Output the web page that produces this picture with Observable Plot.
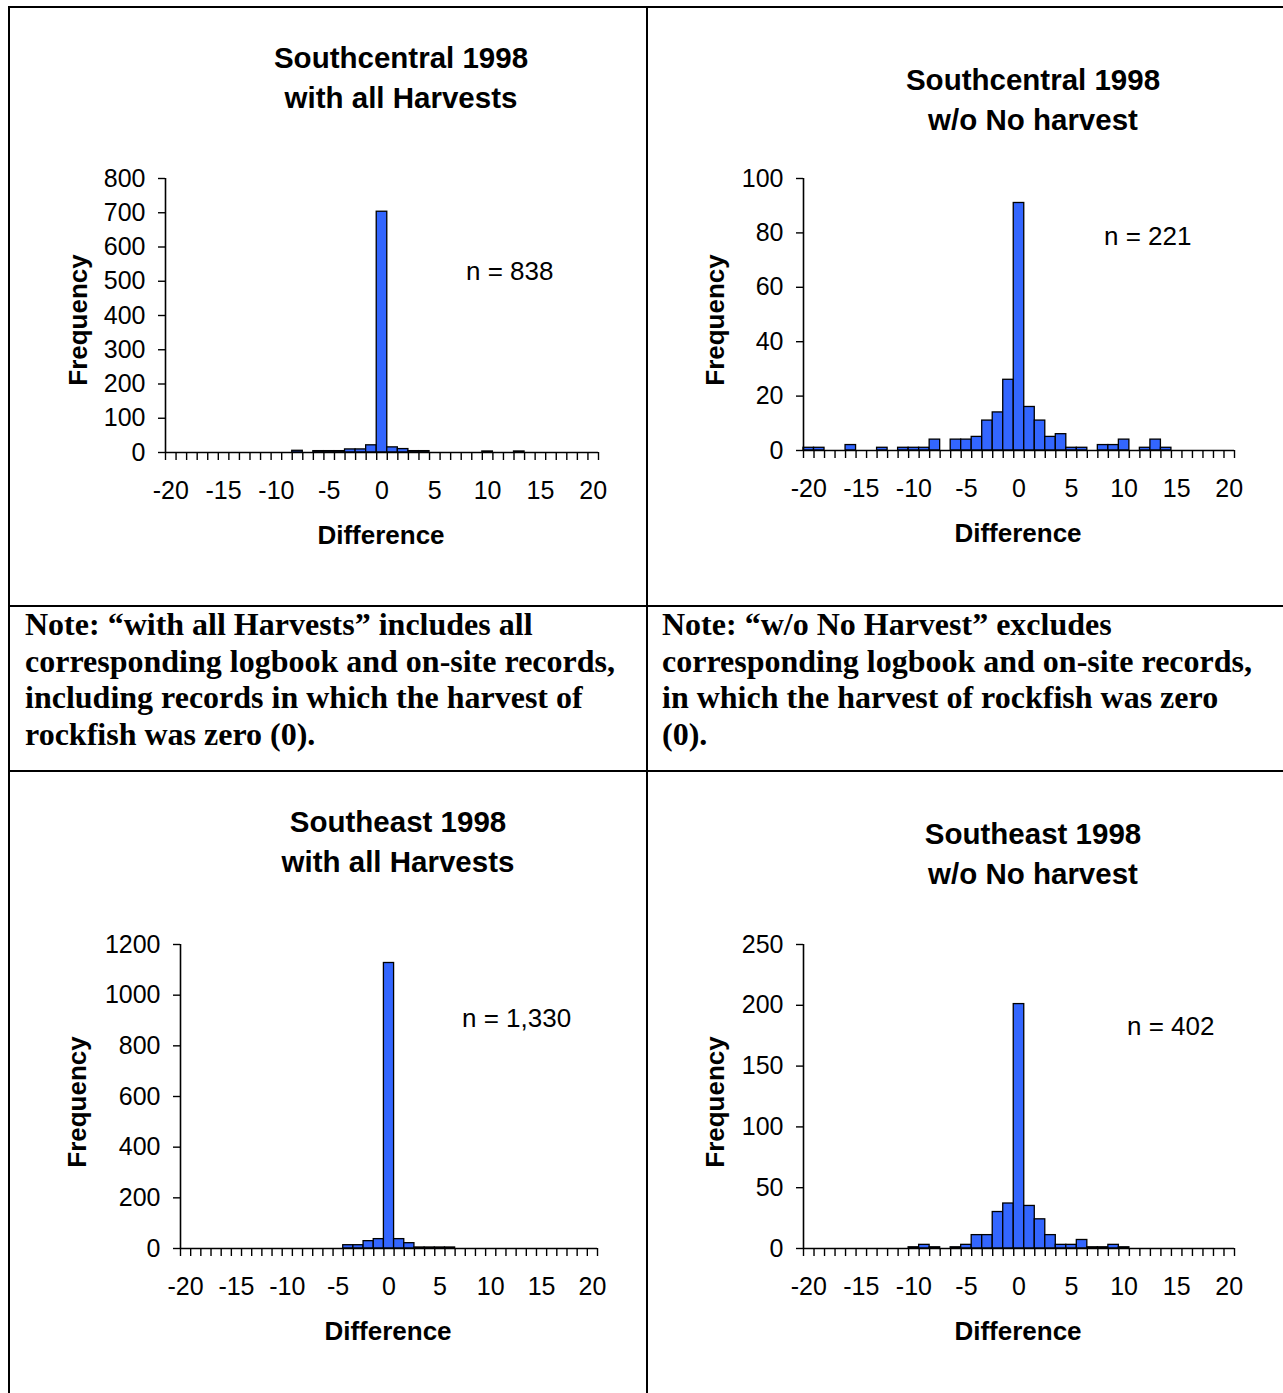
<!DOCTYPE html>
<html>
<head>
<meta charset="utf-8">
<script src="https://cdn.jsdelivr.net/npm/d3@7"></script>
<script src="https://cdn.jsdelivr.net/npm/@observablehq/plot@0.6"></script>
<style>
  html, body { margin: 0; padding: 0; background: #fff; }
  #page { position: relative; width: 1283px; height: 1393px; overflow: hidden; background: #fff; }
  .line { position: absolute; background: #000; }
  .title { position: absolute; transform: translate(-50%, -50%); font: bold 29.5px "Liberation Sans", Arial, sans-serif; line-height: 40px; text-align: center; white-space: nowrap; color: #000; }
  .axlab { position: absolute; transform: translate(-50%, -50%); font: bold 26px "Liberation Sans", Arial, sans-serif; line-height: 1; white-space: nowrap; color: #000; }
  .ylab { position: absolute; transform: translate(-50%, -50%) rotate(-90deg); font: bold 26px "Liberation Sans", Arial, sans-serif; line-height: 1; white-space: nowrap; color: #000; }
  .nlab { position: absolute; transform: translate(0, -50%); font: 26px "Liberation Sans", Arial, sans-serif; line-height: 1; white-space: nowrap; color: #000; }
  .note { position: absolute; font: bold 32px "Liberation Serif", "Times New Roman", serif; line-height: 36.6px; white-space: nowrap; color: #000; }
  .plotbox { position: absolute; }
</style>
</head>
<body>
<div id="page"></div>
<script>
// ---------- data ----------
const categories = [-20,-19,-18,-17,-16,-15,-14,-13,-12,-11,-10,-9,-8,-7,-6,-5,-4,-3,-2,-1,0,1,2,3,4,5,6,7,8,9,10,11,12,13,14,15,16,17,18,19,20];
const tickLabels = [-20,-15,-10,-5,0,5,10,15,20];

// Southcentral 1998, with all harvests
const scAll = [0,0,0,0,0,0,0,0,0,0,0,0,5,0,4,4,4,9,9,21,703,15,10,4,4,0,0,0,0,0,3,0,0,3,0,0,0,0,0,0,0];
// Southcentral 1998, w/o no harvest
const scNoZero = [1,1,0,0,2,0,0,1,0,1,1,1,4,0,4,4,5,11,14,26,91,16,11,5,6,1,1,0,2,2,4,0,1,4,1,0,0,0,0,0,0];
// Southeast 1998, with all harvests
const seAll = [0,0,0,0,0,0,0,0,0,0,0,0,0,0,0,0,13,13,29,37,1127,37,21,4,4,4,4,0,0,0,0,0,0,0,0,0,0,0,0,0,0];
// Southeast 1998, w/o no harvest
const seNoZero = [0,0,0,0,0,0,0,0,0,0,1,3,1,0,1,3,11,11,30,37,201,35,24,11,3,3,7,1,1,3,1,0,0,0,0,0,0,0,0,0,0];

const yTicksSCAll = [0,100,200,300,400,500,600,700,800];
const yTicksSCNoZero = [0,20,40,60,80,100];
const yTicksSEAll = [0,200,400,600,800,1000,1200];
const yTicksSENoZero = [0,50,100,150,200,250];

const titles = [
  ["Southcentral 1998", "with all Harvests"],
  ["Southcentral 1998", "w/o No harvest"],
  ["Southeast 1998", "with all Harvests"],
  ["Southeast 1998", "w/o No harvest"]
];
const nLabels = ["n = 838", "n = 221", "n = 1,330", "n = 402"];
const xTitle = "Difference";
const yTitle = "Frequency";
const notes = [
  ["Note: \u201cwith all Harvests\u201d includes all", "corresponding logbook and on-site records,", "including records in which the harvest of", "rockfish was zero (0)."],
  ["Note: \u201cw/o No Harvest\u201d excludes", "corresponding logbook and on-site records,", "in which the harvest of rockfish was zero", "(0)."]
];

// ---------- layout ----------
const page = document.getElementById("page");
function el(cls, css, html) {
  const d = document.createElement("div");
  d.className = cls;
  Object.assign(d.style, css);
  if (html !== undefined) d.innerHTML = html;
  page.appendChild(d);
  return d;
}
// table lines
el("line", {left: "8px", top: "6px", width: "1275px", height: "2px"});
el("line", {left: "8px", top: "6px", width: "2px", height: "1387px"});
el("line", {left: "646px", top: "6px", width: "2px", height: "1387px"});
el("line", {left: "8px", top: "605px", width: "1275px", height: "2px"});
el("line", {left: "8px", top: "770px", width: "1275px", height: "2px"});

// notes
el("note", {left: "25px", top: "606px"}, notes[0].join("<br>"));
el("note", {left: "662px", top: "606px"}, notes[1].join("<br>"));

const boundaries = categories.map(c => c - 0.5).concat([20.5]);

const panels = [
  {values: scAll, ticks: yTicksSCAll, L: 165, R: 598, T: 178, B: 452,
   title: [401, 78], n: [466, 271], ylab: [78, 320], xlab: [381, 535]},
  {values: scNoZero, ticks: yTicksSCNoZero, L: 803, R: 1234, T: 178, B: 450,
   title: [1033, 100], n: [1104, 236], ylab: [715, 320], xlab: [1018, 533]},
  {values: seAll, ticks: yTicksSEAll, L: 180, R: 597, T: 944, B: 1248,
   title: [398, 842], n: [462, 1018], ylab: [77, 1102], xlab: [388, 1331]},
  {values: seNoZero, ticks: yTicksSENoZero, L: 803, R: 1234, T: 944, B: 1248,
   title: [1033, 854], n: [1127, 1026], ylab: [715, 1102], xlab: [1018, 1331]}
];

panels.forEach((p, i) => {
  const mL = 110, mR = 20, mT = 14, mB = 60;
  const data = categories.map((c, j) => ({c, v: p.values[j]})).filter(d => d.v > 0);
  const yMax = p.ticks[p.ticks.length - 1];
  const svg = Plot.plot({
    width: mL + (p.R - p.L) + mR,
    height: mT + (p.B - p.T) + mB,
    marginLeft: mL, marginRight: mR, marginTop: mT, marginBottom: mB,
    x: {domain: [-20.5, 20.5], label: null},
    y: {domain: [0, yMax], label: null},
    style: {fontFamily: "'Liberation Sans', Arial, sans-serif", fontSize: "25px", color: "#000", background: "transparent", overflow: "visible"},
    marks: [
      Plot.rect(data, {x1: d => d.c - 0.5, x2: d => d.c + 0.5, y1: () => 0, y2: "v",
        fill: "#3366ff", stroke: "#000", strokeWidth: 1.3}),
      Plot.axisX(boundaries, {tickSize: 8, tickFormat: () => "", strokeWidth: 1.4, label: null}),
      Plot.axisX(tickLabels, {tickSize: 0, tickPadding: 29, tickFormat: d => String(d), fontSize: 25, label: null}),
      Plot.axisY(p.ticks, {tickSize: 7, tickPadding: 13, tickFormat: d => String(d), fontSize: 25, strokeWidth: 1.4, label: null}),
      Plot.ruleY([0], {strokeWidth: 1.6}),
      Plot.ruleX([-20.5], {strokeWidth: 1.6})
    ]
  });
  const box = el("plotbox", {left: (p.L - mL) + "px", top: (p.T - mT) + "px"});
  box.appendChild(svg);

  el("title", {left: p.title[0] + "px", top: p.title[1] + "px"}, titles[i].join("<br>"));
  el("nlab", {left: p.n[0] + "px", top: p.n[1] + "px"}, nLabels[i]);
  el("ylab", {left: p.ylab[0] + "px", top: p.ylab[1] + "px"}, yTitle);
  el("axlab", {left: p.xlab[0] + "px", top: p.xlab[1] + "px"}, xTitle);
});
</script>
</body>
</html>
